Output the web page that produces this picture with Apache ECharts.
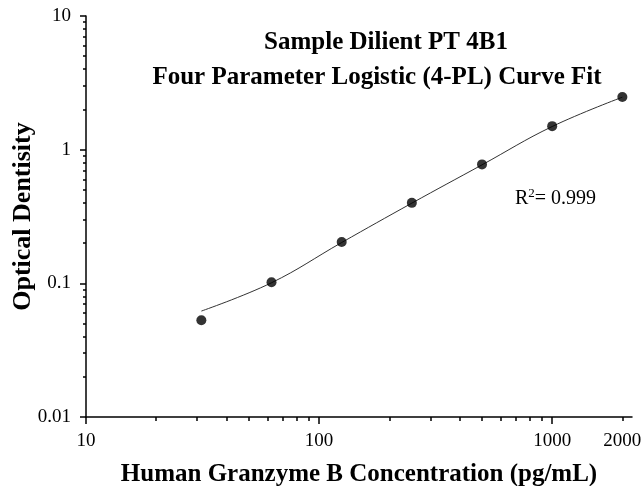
<!DOCTYPE html>
<html>
<head>
<meta charset="utf-8">
<script src="https://cdn.jsdelivr.net/npm/echarts@6/dist/echarts.min.js"></script>
<style>html,body{margin:0;padding:0;background:#fff}#c{width:643px;height:486px}</style>
</head>
<body>
<div id="c"></div>
<script>
// Concentrations (pg/mL)
var concentrations = [31.25, 62.5, 125, 250, 500, 1000, 2000];
// Measured optical density
var odValues = [0.053, 0.102, 0.204, 0.400, 0.776, 1.50, 2.48];
// Fitted 4-PL curve read at the same concentrations
var fitValues = [0.062, 0.101, 0.202, 0.398, 0.77, 1.49, 2.47];
// Axis ticks and labels
var xLabelValues = [10, 100, 1000, 2000];
var xMajorTicks = [10, 100, 1000];
var xMinorTicks = [20, 30, 40, 50, 60, 70, 80, 90, 200, 300, 400, 500, 600, 700, 800, 900, 2000];
var yLabelValues = [0.01, 0.1, 1, 10];
var yMinorTicks = [0.02, 0.03, 0.04, 0.05, 0.06, 0.07, 0.08, 0.09, 0.2, 0.3, 0.4, 0.5, 0.6, 0.7, 0.8, 0.9, 2, 3, 4, 5, 6, 7, 8, 9];
var titleLine1 = 'Sample Dilient PT 4B1';
var titleLine2 = 'Four Parameter Logistic (4-PL) Curve Fit';
var xName = 'Human Granzyme B Concentration (pg/mL)';
var yName = 'Optical Dentisity';
var r2Text = '0.999';

var FONT = '"Liberation Serif", "Times New Roman", serif';
var chart = echarts.init(document.getElementById('c'), null, {renderer: 'canvas'});

function fmt(v) { return String(+v.toPrecision(6)); }

var W = 643, H = 486;
var gridBox = {left: 86, right: 11, top: 16, bottom: 69, containLabel: false, outerBoundsMode: 'none'};
var plotW = W - gridBox.left - gridBox.right;
var plotH = H - gridBox.top - gridBox.bottom;

var xBase = {
  type: 'log', logBase: 10, min: 10, max: 2200, gridIndex: 0,
  splitLine: {show: false}, minorTick: {show: false}, minorSplitLine: {show: false}
};
var yBase = {
  type: 'log', logBase: 10, min: 0.01, max: 10, gridIndex: 0,
  splitLine: {show: false}, minorTick: {show: false}, minorSplitLine: {show: false}
};

var option = {
  animation: false,
  backgroundColor: '#fff',
  grid: gridBox,
  xAxis: [
    Object.assign({}, xBase, {
      position: 'bottom',
      name: xName, nameLocation: 'middle', nameGap: 45, nameMoveOverlap: false,
      nameTextStyle: {fontFamily: FONT, fontWeight: 'bold', fontSize: 25, color: '#000'},
      axisLine: {show: true, onZero: false, lineStyle: {color: '#000', width: 1.5}},
      axisTick: {show: true, inside: false, length: 7, lineStyle: {color: '#000', width: 1.5}, customValues: xMajorTicks},
      axisLabel: {show: true, margin: 15, fontFamily: FONT, fontSize: 19, color: '#000', customValues: xLabelValues, formatter: fmt}
    }),
    // minor ticks: a top axis shifted down onto the bottom edge
    Object.assign({}, xBase, {
      position: 'top', offset: -plotH,
      axisLine: {show: false, onZero: false},
      axisTick: {show: true, inside: true, length: 4, lineStyle: {color: '#000', width: 1.5}, customValues: xMinorTicks},
      axisLabel: {show: false}
    })
  ],
  yAxis: [
    Object.assign({}, yBase, {
      position: 'left',
      name: yName, nameLocation: 'middle', nameGap: 50, nameRotate: 90, nameMoveOverlap: false,
      nameTextStyle: {fontFamily: FONT, fontWeight: 'bold', fontSize: 26, color: '#000'},
      axisLine: {show: true, onZero: false, lineStyle: {color: '#000', width: 1.5}},
      axisTick: {show: true, inside: false, length: 6, lineStyle: {color: '#000', width: 1.5}, customValues: yLabelValues},
      axisLabel: {show: true, margin: 15, fontFamily: FONT, fontSize: 19, color: '#000', customValues: yLabelValues, formatter: fmt}
    }),
    // minor ticks: a right axis shifted left onto the left edge
    Object.assign({}, yBase, {
      position: 'right', offset: -plotW,
      axisLine: {show: false, onZero: false},
      axisTick: {show: true, inside: true, length: 3, lineStyle: {color: '#000', width: 1.5}, customValues: yMinorTicks},
      axisLabel: {show: false}
    })
  ],
  graphic: [
    {type: 'text', x: 386, y: 43,
      style: {text: titleLine1, x: 0, y: 0, align: 'center', verticalAlign: 'middle', font: 'bold 25px ' + FONT, fill: '#000'}},
    {type: 'text', x: 377, y: 78,
      style: {text: titleLine2, x: 0, y: 0, align: 'center', verticalAlign: 'middle', font: 'bold 25px ' + FONT, fill: '#000'}},
    {type: 'text', x: 515, y: 199,
      style: {
        text: '{a|R}{b|2}{a|= ' + r2Text + '}',
        x: 0, y: 0,
        align: 'left', verticalAlign: 'middle',
        rich: {
          a: {fontFamily: FONT, fontSize: 20, color: '#000', lineHeight: 24},
          b: {fontFamily: FONT, fontSize: 13, color: '#000', verticalAlign: 'top', lineHeight: 14}
        }
      }}
  ],
  series: [
    {
      type: 'line', name: 'fit', xAxisIndex: 0, yAxisIndex: 0,
      data: concentrations.map(function (c, i) { return [c, fitValues[i]]; }),
      smooth: 0.4, showSymbol: false, symbol: 'none',
      lineStyle: {color: '#333', width: 1}, z: 2
    },
    {
      type: 'scatter', name: 'OD', xAxisIndex: 0, yAxisIndex: 0,
      data: concentrations.map(function (c, i) { return [c, odValues[i]]; }),
      symbol: 'circle', symbolSize: 10,
      itemStyle: {color: '#000'}, z: 3
    }
  ]
};
chart.setOption(option);
</script>
</body>
</html>
